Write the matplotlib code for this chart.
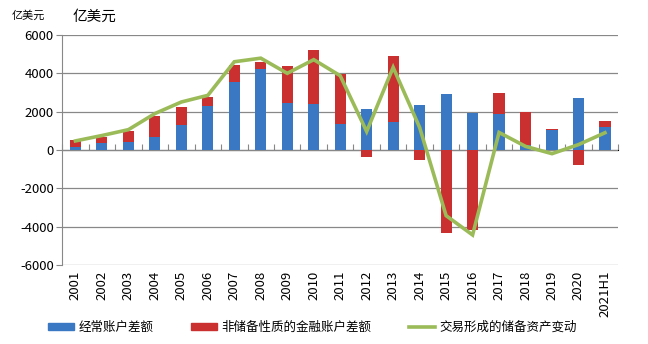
import numpy as np
import matplotlib
matplotlib.use("Agg")
import matplotlib.pyplot as plt
from matplotlib.patches import Patch
from matplotlib.lines import Line2D

plt.rcParams['font.family'] = ['Noto Sans CJK SC', 'DejaVu Sans']
plt.rcParams['axes.unicode_minus'] = False

years = ["2001", "2002", "2003", "2004", "2005", "2006", "2007", "2008", "2009", "2010",
         "2011", "2012", "2013", "2014", "2015", "2016", "2017", "2018", "2019", "2020", "2021H1"]
current_account = [174, 354, 431, 689, 1324, 2318, 3532, 4206, 2433, 2378,
                   1361, 2154, 1482, 2360, 2930, 1913, 1887, 241, 1029, 2740, 1223]
financial_account = [348, 323, 549, 1082, 912, 453, 911, 371, 1945, 2822,
                     2600, -360, 3430, -514, -4345, -4161, 1095, 1727, 73, -778, 285]
reserve_change = [473, 755, 1061, 1901, 2506, 2853, 4607, 4795, 4003, 4717,
                  3878, 966, 4314, 1178, -3429, -4437, 915, 189, -193, 280, 900]

blue = '#3b78c3'
red = '#c9302f'
green = '#9bbb59'

fig = plt.figure(figsize=(6.48, 3.44), dpi=100)
ax = fig.add_axes([0.096, 0.230, 0.858, 0.668])

x = np.arange(len(years))
ca = np.array(current_account)
fa = np.array(financial_account)
# positive parts stack on top of blue, negative parts go below zero
fa_bottom = np.where(fa >= 0, np.maximum(ca, 0), 0)
ax.bar(x, ca, width=0.42, color=blue, zorder=3)
ax.bar(x, fa, width=0.42, bottom=fa_bottom, color=red, zorder=3)
ax.plot(x, reserve_change, color=green, lw=2.6, zorder=4, solid_joinstyle='miter')

ax.set_xlim(-0.5, len(years) - 0.5)
ax.set_ylim(-6000, 6000)
ax.set_yticks(np.arange(-6000, 6001, 2000))
ax.yaxis.grid(True, color='#888888', lw=0.9)
ax.set_axisbelow(True)
ax.tick_params(axis='y', labelsize=9.5, length=4, color='#888888', pad=2)
ax.set_xticks(x)
ax.set_xticklabels(years, rotation=90, fontsize=9.5)
ax.tick_params(axis='x', length=0, pad=4)
for s in ['top', 'right', 'bottom']:
    ax.spines[s].set_visible(False)
ax.spines['left'].set_color('#888888')

# category axis line at zero with ticks between categories
sec = ax.secondary_xaxis(0.5)
sec.set_xticks(np.arange(-0.5, len(years), 1.0))
sec.set_xticklabels([])
sec.tick_params(length=4, color='#888888')
sec.spines['bottom'].set_color('#888888')

fig.text(0.018, 0.945, "亿美元", fontsize=8)
fig.text(0.112, 0.94, "亿美元", fontsize=10.5)

handles = [Patch(color=blue), Patch(color=red), Line2D([0], [0], color=green, lw=2.6)]
labels = ["经常账户差额", "非储备性质的金融账户差额", "交易形成的储备资产变动"]
fig.legend(handles, labels, loc='center', bbox_to_anchor=(0.482, 0.049), ncol=3,
           frameon=False, fontsize=9, handlelength=2.1, handleheight=0.5,
           columnspacing=3.0, handletextpad=0.35)

fig.savefig("out.png", dpi=100)
